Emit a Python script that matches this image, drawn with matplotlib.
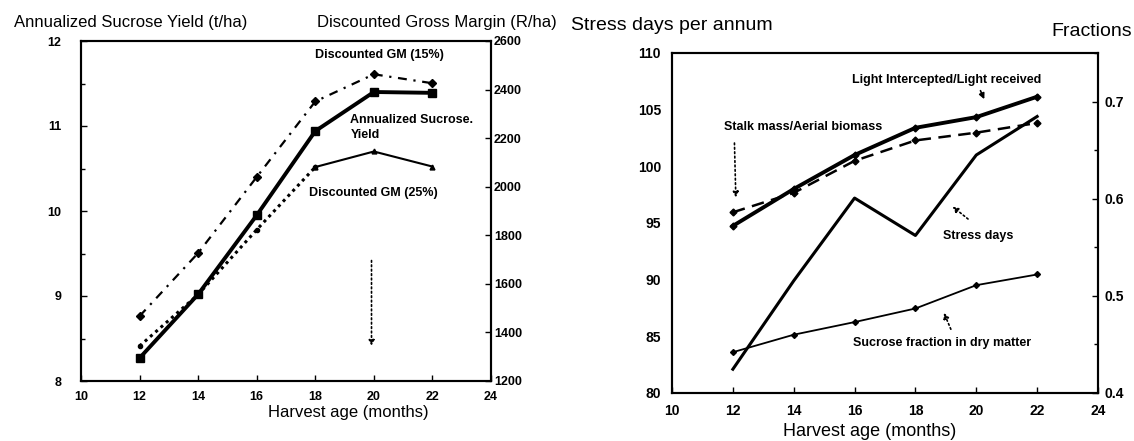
import matplotlib
matplotlib.use("Agg")
import matplotlib.pyplot as plt
from matplotlib.ticker import MultipleLocator

plt.rcParams['font.family'] = ['Liberation Sans', 'DejaVu Sans']

# ---- data ----
harvest_age = [12, 14, 16, 18, 20, 22]
sucrose_yield = [8.27, 9.02, 9.95, 10.94, 11.40, 11.39]       # t/ha
gm_15 = [1467, 1727, 2040, 2351, 2463, 2426]                  # R/ha
gm_25 = [1344, 1556, 1823, 2081, 2145, 2083]                  # R/ha

light_ratio = [0.572, 0.610, 0.645, 0.673, 0.684, 0.705]
stalk_ratio = [0.586, 0.606, 0.639, 0.660, 0.668, 0.678]
stress_days = [82.1, 89.9, 97.2, 93.9, 101.0, 104.4]
sucrose_frac = [0.442, 0.460, 0.473, 0.487, 0.511, 0.522]

x_ticks = [10, 12, 14, 16, 18, 20, 22, 24]
yield_ticks = [8, 9, 10, 11, 12]
gm_ticks = [1200, 1400, 1600, 1800, 2000, 2200, 2400, 2600]
stress_ticks = [80, 85, 90, 95, 100, 105, 110]
frac_ticks = [0.4, 0.5, 0.6, 0.7]

fig = plt.figure(figsize=(11.34, 4.41), dpi=100)

tickL = dict(fontsize=9, fontweight='bold')
tickR = dict(fontsize=10, fontweight='bold')
ann_kw = dict(fontsize=9, fontweight='bold')

def style_axes(ax):
    for s in ax.spines.values():
        s.set_linewidth(1.5)
    ax.tick_params(direction='in', length=4, width=1)
    ax.tick_params(which='minor', direction='in', length=3, width=1)

# ---------------- Left panel ----------------
axL = fig.add_axes([81/1134, 1-381/441, 410/1134, 340/441])
axL2 = axL.twinx()
axL.set_xlim(10, 24)
axL.set_ylim(8, 12)
axL2.set_ylim(1200, 2600)
axL.set_xticks(x_ticks)
axL.set_xticklabels([str(t) for t in x_ticks], **tickL)
axL.set_yticks(yield_ticks)
axL.set_yticklabels([str(t) for t in yield_ticks], **tickL)
axL.yaxis.set_minor_locator(MultipleLocator(0.5))
axL2.set_yticks(gm_ticks)
axL2.set_yticklabels([str(t) for t in gm_ticks], **tickL)
style_axes(axL); style_axes(axL2)
axL.tick_params(axis='y', pad=14)
axL.tick_params(axis='x', pad=7)
axL2.tick_params(axis='y', pad=2)

axL2.plot(harvest_age, gm_15, color='black', lw=1.6, ls=(0, (4, 3, 1, 3)),
          marker='D', ms=4.5)
axL2.plot(harvest_age[:4], gm_25[:4], color='black', lw=2.2, ls=(0, (1, 1.3)),
          marker='o', ms=3)
axL2.plot(harvest_age[3:], gm_25[3:], color='black', lw=1.5, ls='-',
          marker='^', ms=3.5)
axL.plot(harvest_age, sucrose_yield, color='black', lw=2.8, marker='s', ms=6)

axL.text(17.98, 11.84, 'Discounted GM (15%)', va='center', ha='left', **ann_kw)
axL.text(19.2, 11.07, 'Annualized Sucrose.', va='center', ha='left', **ann_kw)
axL.text(19.2, 10.89, 'Yield', va='center', ha='left', **ann_kw)
axL.text(17.8, 10.21, 'Discounted GM (25%)', va='center', ha='left', **ann_kw)
axL.annotate('', xy=(19.92, 8.38), xytext=(19.92, 9.45),
             arrowprops=dict(arrowstyle='-|>', ls=':', lw=1.2, color='black',
                             mutation_scale=8))

fig.text(14/1134, 1-22/441, 'Annualized Sucrose Yield (t/ha)', fontsize=12,
         va='center', ha='left')
fig.text(317/1134, 1-22/441, 'Discounted Gross Margin (R/ha)', fontsize=12,
         va='center', ha='left')
fig.text(348/1134, 1-413/441, 'Harvest age (months)', fontsize=12,
         va='center', ha='center')

# ---------------- Right panel ----------------
axR = fig.add_axes([672/1134, 1-393/441, 426/1134, 340/441])
axR2 = axR.twinx()
axR.set_xlim(10, 24)
axR.set_ylim(80, 110)
axR2.set_ylim(0.4, 0.75)
axR.set_xticks(x_ticks)
axR.set_xticklabels([str(t) for t in x_ticks], **tickR)
axR.set_yticks(stress_ticks)
axR.set_yticklabels([str(t) for t in stress_ticks], **tickR)
axR2.set_yticks(frac_ticks)
axR2.set_yticklabels([str(t) for t in frac_ticks], **tickR)
axR2.yaxis.set_minor_locator(MultipleLocator(0.05))
style_axes(axR); style_axes(axR2)
axR.tick_params(axis='y', length=0, pad=8)
axR.tick_params(axis='x', pad=8)
axR2.tick_params(axis='y', pad=5)

axR.plot(harvest_age, stress_days, color='black', lw=2.2)
axR2.plot(harvest_age, stalk_ratio, color='black', lw=1.8, ls=(0, (5, 3)),
          marker='D', ms=3.5)
axR2.plot(harvest_age, light_ratio, color='black', lw=2.8, marker='D', ms=3.5)
axR2.plot(harvest_age, sucrose_frac, color='black', lw=1.3, marker='D', ms=3)

axR.text(15.9, 107.6, 'Light Intercepted/Light received', va='center',
         ha='left', **ann_kw)
axR.annotate('', xy=(20.3, 105.7), xytext=(20.1, 106.9),
             arrowprops=dict(arrowstyle='-|>', lw=1.2, color='black',
                             mutation_scale=8))
axR.text(11.7, 103.5, 'Stalk mass/Aerial biomass', va='center', ha='left',
         **ann_kw)
axR.annotate('', xy=(12.1, 97.0), xytext=(12.05, 102.3),
             arrowprops=dict(arrowstyle='-|>', ls=':', lw=1.2, color='black',
                             mutation_scale=8))
axR.text(18.9, 93.85, 'Stress days', va='center', ha='left', **ann_kw)
axR.annotate('', xy=(19.15, 96.6), xytext=(19.8, 95.2),
             arrowprops=dict(arrowstyle='-|>', ls=':', lw=1.2, color='black',
                             mutation_scale=8))
axR.text(15.95, 84.4, 'Sucrose fraction in dry matter', va='center',
         ha='left', **ann_kw)
axR.annotate('', xy=(18.9, 87.3), xytext=(19.2, 85.4),
             arrowprops=dict(arrowstyle='-|>', ls=':', lw=1.2, color='black',
                             mutation_scale=8))

fig.text(571/1134, 1-25/441, 'Stress days per annum', fontsize=14,
         va='center', ha='left')
fig.text(1132/1134, 1-32/441, 'Fractions', fontsize=14, va='center',
         ha='right')
fig.text(870/1134, 1-432/441, 'Harvest age (months)', fontsize=13,
         va='center', ha='center')

fig.savefig('out.png', dpi=100)
